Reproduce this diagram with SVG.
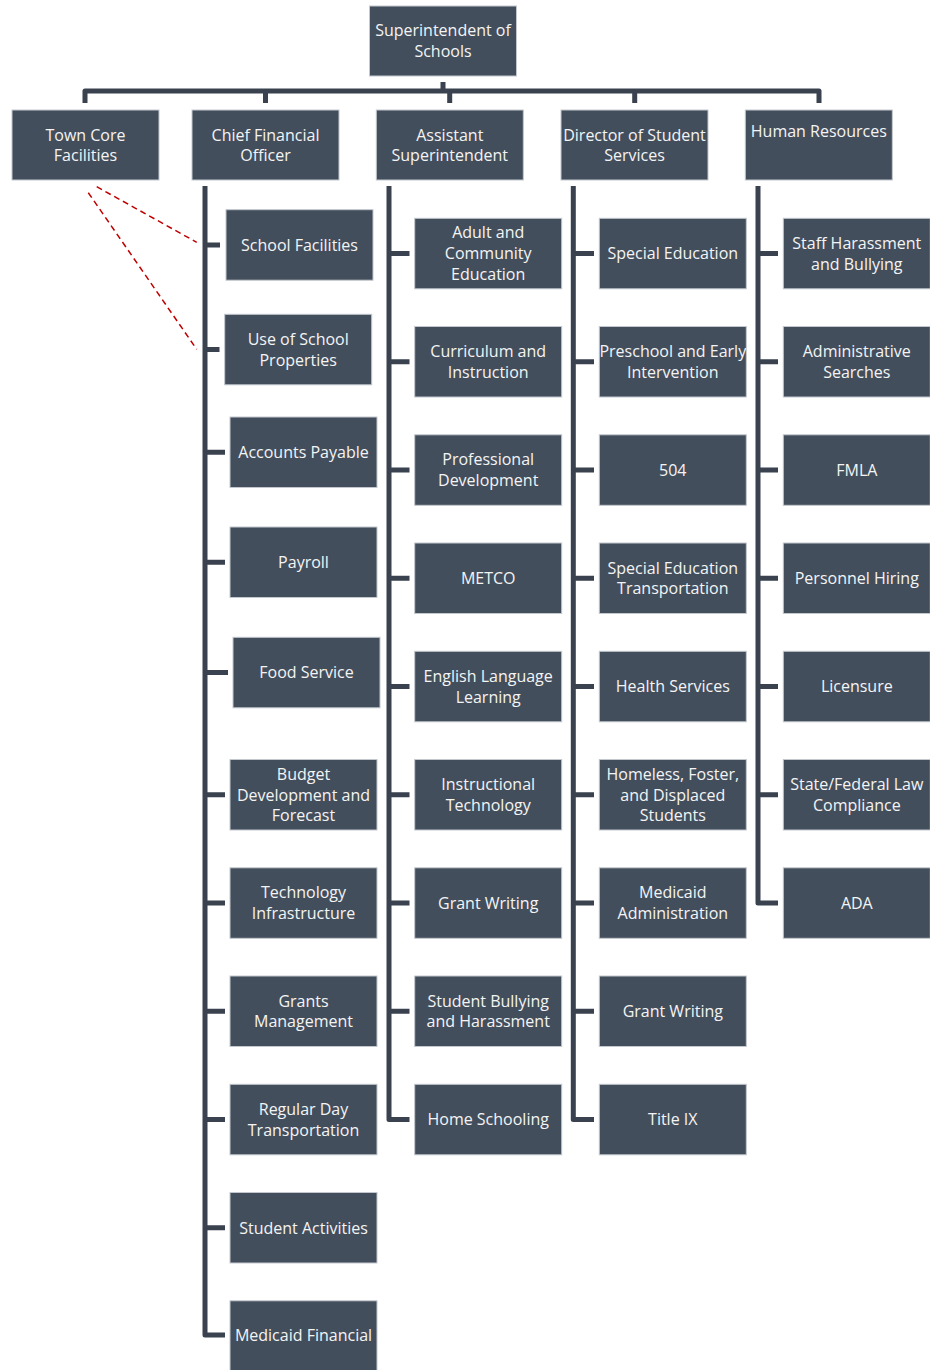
<svg xmlns="http://www.w3.org/2000/svg" width="930" height="1370" viewBox="0 0 930 1370">
<style>
.box{fill:#434e5c;stroke:#c3c8ce;stroke-width:1}
.t{font-family:"Open Sans","Noto Sans","DejaVu Sans",sans-serif;font-size:16px;fill:#f4f4f4;text-anchor:middle}
.ln{fill:none;stroke:#39424e;stroke-width:5;stroke-linejoin:round}
.dash{fill:none;stroke:#c00000;stroke-width:1.5;stroke-dasharray:6 4}
</style>
<rect width="930" height="1370" fill="#ffffff"/>
<g id="connectors">
<path class="ln" d="M443 82V91M85 103V91H819V103M265.5 91V103M449.7 91V103M634.7 91V103"/>
<path class="ln" d="M205 186V1335H225M205 245H220M205 349.6H219.5M205 452.3H225M205 562.3H225M205 672.6H228M205 794.8H225M205 903H225M205 1011.3H225M205 1119.5H225M205 1227.8H225"/>
<path class="ln" d="M389 186V1119.5H409.5M389 253.5H409.5M389 361.8H409.5M389 470H409.5M389 578.3H409.5M389 686.5H409.5M389 794.8H409.5M389 903H409.5M389 1011.3H409.5"/>
<path class="ln" d="M573.3 186V1119.5H594M573.3 253.5H594M573.3 361.8H594M573.3 470H594M573.3 578.3H594M573.3 686.5H594M573.3 794.8H594M573.3 903H594M573.3 1011.3H594"/>
<path class="ln" d="M758 186V903H778M758 253.5H778M758 361.8H778M758 470H778M758 578.3H778M758 686.5H778M758 794.8H778"/>
<path class="dash" d="M96.7 186.7L196.7 242.3M88.3 192.7L196.7 349.3"/>
</g>
<g id="superintendent"><rect class="box" x="369.5" y="6" width="147" height="70"/><text class="t" x="443" y="36">Superintendent of</text><text class="t" x="443" y="57">Schools</text></g>
<g id="town-core"><rect class="box" x="12" y="110" width="147" height="70"/><text class="t" x="85.5" y="140.5">Town Core</text><text class="t" x="85.5" y="161.3">Facilities</text></g>
<g id="cfo"><rect class="box" x="192" y="110" width="147" height="70"/><text class="t" x="265.5" y="140.5">Chief Financial</text><text class="t" x="265.5" y="161.3">Officer</text></g>
<g id="assistant"><rect class="box" x="376.3" y="110" width="147" height="70"/><text class="t" x="449.8" y="140.5">Assistant</text><text class="t" x="449.8" y="161.3">Superintendent</text></g>
<g id="director"><rect class="box" x="561" y="110" width="147" height="70"/><text class="t" x="634.5" y="140.5">Director of Student</text><text class="t" x="634.5" y="161.3">Services</text></g>
<g id="hr"><rect class="box" x="745.3" y="110" width="147" height="70"/><text class="t" x="818.8" y="136.5">Human Resources</text></g>

<g id="school-facilities"><rect class="box" x="226" y="209.7" width="147" height="70.5"/><text class="t" x="299.5" y="250.7">School Facilities</text></g>
<g id="use-of-school-properties"><rect class="box" x="224.7" y="314.3" width="147" height="70.5"/><text class="t" x="298.2" y="344.9">Use of School</text><text class="t" x="298.2" y="365.7">Properties</text></g>
<g id="accounts-payable"><rect class="box" x="230" y="417" width="147" height="70.5"/><text class="t" x="303.5" y="458">Accounts Payable</text></g>
<g id="payroll"><rect class="box" x="230" y="527" width="147" height="70.5"/><text class="t" x="303.5" y="568">Payroll</text></g>
<g id="food-service"><rect class="box" x="233" y="637.3" width="147" height="70.5"/><text class="t" x="306.5" y="678.3">Food Service</text></g>
<g id="budget"><rect class="box" x="230" y="759.5" width="147" height="70.5"/><text class="t" x="303.5" y="779.7">Budget</text><text class="t" x="303.5" y="800.5">Development and</text><text class="t" x="303.5" y="821.3">Forecast</text></g>
<g id="technology-infrastructure"><rect class="box" x="230" y="867.8" width="147" height="70.5"/><text class="t" x="303.5" y="898.3">Technology</text><text class="t" x="303.5" y="919.1">Infrastructure</text></g>
<g id="grants-management"><rect class="box" x="230" y="976" width="147" height="70.5"/><text class="t" x="303.5" y="1006.6">Grants</text><text class="t" x="303.5" y="1027.4">Management</text></g>
<g id="regular-day-transportation"><rect class="box" x="230" y="1084.3" width="147" height="70.5"/><text class="t" x="303.5" y="1114.8">Regular Day</text><text class="t" x="303.5" y="1135.6">Transportation</text></g>
<g id="student-activities"><rect class="box" x="230" y="1192.5" width="147" height="70.5"/><text class="t" x="303.5" y="1233.5">Student Activities</text></g>
<g id="medicaid-financial"><rect class="box" x="230" y="1300.8" width="147" height="70.5"/><text class="t" x="303.5" y="1341">Medicaid Financial</text></g>

<g id="adult-community-education"><rect class="box" x="414.7" y="218.3" width="147" height="70.5"/><text class="t" x="488.2" y="238.4">Adult and</text><text class="t" x="488.2" y="259.2">Community</text><text class="t" x="488.2" y="280">Education</text></g>
<g id="curriculum"><rect class="box" x="414.7" y="326.5" width="147" height="70.5"/><text class="t" x="488.2" y="357.1">Curriculum and</text><text class="t" x="488.2" y="377.9">Instruction</text></g>
<g id="professional-development"><rect class="box" x="414.7" y="434.8" width="147" height="70.5"/><text class="t" x="488.2" y="465.3">Professional</text><text class="t" x="488.2" y="486.1">Development</text></g>
<g id="metco"><rect class="box" x="414.7" y="543" width="147" height="70.5"/><text class="t" x="488.2" y="584">METCO</text></g>
<g id="english-language-learning"><rect class="box" x="414.7" y="651.3" width="147" height="70.5"/><text class="t" x="488.2" y="681.8">English Language</text><text class="t" x="488.2" y="702.6">Learning</text></g>
<g id="instructional-technology"><rect class="box" x="414.7" y="759.5" width="147" height="70.5"/><text class="t" x="488.2" y="790.1">Instructional</text><text class="t" x="488.2" y="810.9">Technology</text></g>
<g id="grant-writing-a"><rect class="box" x="414.7" y="867.8" width="147" height="70.5"/><text class="t" x="488.2" y="908.8">Grant Writing</text></g>
<g id="student-bullying"><rect class="box" x="414.7" y="976" width="147" height="70.5"/><text class="t" x="488.2" y="1006.6">Student Bullying</text><text class="t" x="488.2" y="1027.4">and Harassment</text></g>
<g id="home-schooling"><rect class="box" x="414.7" y="1084.3" width="147" height="70.5"/><text class="t" x="488.2" y="1125.3">Home Schooling</text></g>

<g id="special-education"><rect class="box" x="599.3" y="218.3" width="147" height="70.5"/><text class="t" x="672.8" y="259.3">Special Education</text></g>
<g id="preschool"><rect class="box" x="599.3" y="326.5" width="147" height="70.5"/><text class="t" x="672.8" y="357.1">Preschool and Early</text><text class="t" x="672.8" y="377.9">Intervention</text></g>
<g id="s504"><rect class="box" x="599.3" y="434.8" width="147" height="70.5"/><text class="t" x="672.8" y="475.8">504</text></g>
<g id="sped-transportation"><rect class="box" x="599.3" y="543" width="147" height="70.5"/><text class="t" x="672.8" y="573.6">Special Education</text><text class="t" x="672.8" y="594.4">Transportation</text></g>
<g id="health-services"><rect class="box" x="599.3" y="651.3" width="147" height="70.5"/><text class="t" x="672.8" y="692.3">Health Services</text></g>
<g id="homeless"><rect class="box" x="599.3" y="759.5" width="147" height="70.5"/><text class="t" x="672.8" y="779.7">Homeless, Foster,</text><text class="t" x="672.8" y="800.5">and Displaced</text><text class="t" x="672.8" y="821.3">Students</text></g>
<g id="medicaid-administration"><rect class="box" x="599.3" y="867.8" width="147" height="70.5"/><text class="t" x="672.8" y="898.3">Medicaid</text><text class="t" x="672.8" y="919.1">Administration</text></g>
<g id="grant-writing-d"><rect class="box" x="599.3" y="976" width="147" height="70.5"/><text class="t" x="672.8" y="1017">Grant Writing</text></g>
<g id="title-ix"><rect class="box" x="599.3" y="1084.3" width="147" height="70.5"/><text class="t" x="672.8" y="1125.3">Title IX</text></g>

<g id="staff-harassment"><rect class="box" x="783.3" y="218.3" width="147" height="70.5"/><text class="t" x="856.8" y="248.9">Staff Harassment</text><text class="t" x="856.8" y="269.7">and Bullying</text></g>
<g id="administrative-searches"><rect class="box" x="783.3" y="326.5" width="147" height="70.5"/><text class="t" x="856.8" y="357.1">Administrative</text><text class="t" x="856.8" y="377.9">Searches</text></g>
<g id="fmla"><rect class="box" x="783.3" y="434.8" width="147" height="70.5"/><text class="t" x="856.8" y="475.8">FMLA</text></g>
<g id="personnel-hiring"><rect class="box" x="783.3" y="543" width="147" height="70.5"/><text class="t" x="856.8" y="584">Personnel Hiring</text></g>
<g id="licensure"><rect class="box" x="783.3" y="651.3" width="147" height="70.5"/><text class="t" x="856.8" y="692.3">Licensure</text></g>
<g id="state-federal"><rect class="box" x="783.3" y="759.5" width="147" height="70.5"/><text class="t" x="856.8" y="790.1">State/Federal Law</text><text class="t" x="856.8" y="810.9">Compliance</text></g>
<g id="ada"><rect class="box" x="783.3" y="867.8" width="147" height="70.5"/><text class="t" x="856.8" y="908.8">ADA</text></g>
</svg>
